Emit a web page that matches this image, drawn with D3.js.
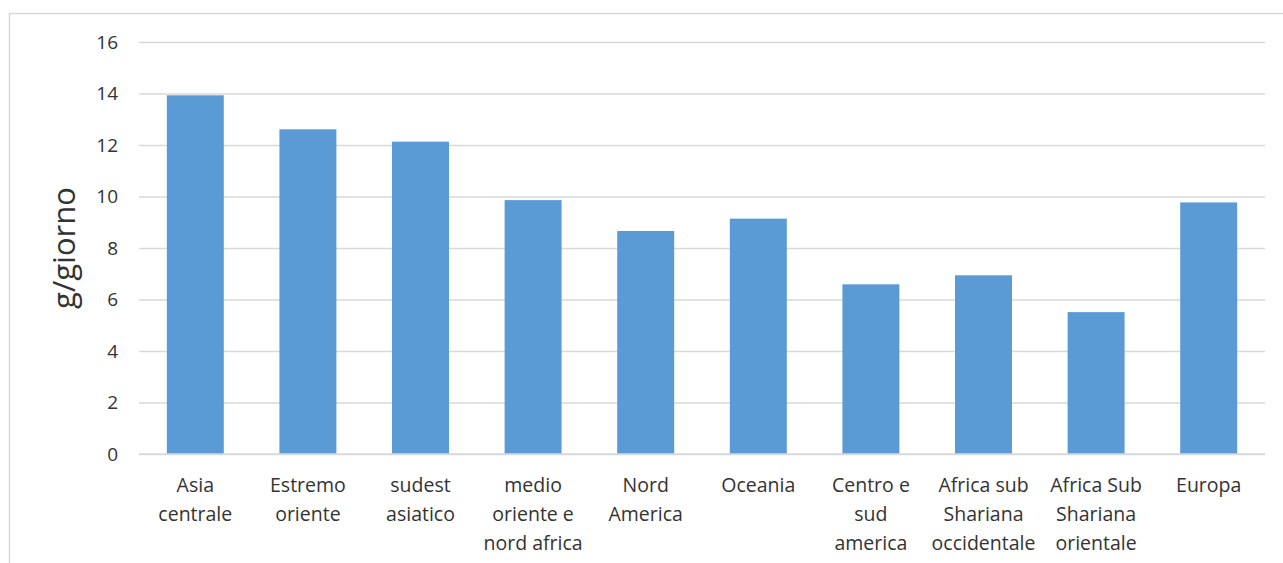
<!DOCTYPE html>
<html>
<head>
<meta charset="utf-8">
<script src="https://cdn.jsdelivr.net/npm/d3@7/dist/d3.min.js"></script>
<style>
  html, body { margin: 0; padding: 0; background: #fff; }
  svg { display: block; }
  text { font-family: "Open Sans", "Noto Sans", sans-serif; fill: #333; }
</style>
</head>
<body>
<svg id="chart" width="1283" height="563"></svg>
<script>
// Regions (label lines separated by "\n")
const categories = [
  "Asia\ncentrale",
  "Estremo\noriente",
  "sudest\nasiatico",
  "medio\noriente e\nnord africa",
  "Nord\nAmerica",
  "Oceania",
  "Centro e\nsud\namerica",
  "Africa sub\nShariana\noccidentale",
  "Africa Sub\nShariana\norientale",
  "Europa"
];
// Daily intake, g/giorno
const values = [13.93, 12.61, 12.13, 9.86, 8.66, 9.14, 6.59, 6.94, 5.51, 9.77];
const yTicks = [0, 2, 4, 6, 8, 10, 12, 14, 16];
const yTitle = "g/giorno";

const FONT = "'Open Sans', 'Noto Sans', sans-serif";
const svg = d3.select("#chart");
const W = 1283, H = 563;
const plot = { left: 139, right: 1265, top: 42, bottom: 454 };

// Outer chart frame
svg.append("rect")
  .attr("x", 9.5).attr("y", 13.5)
  .attr("width", W).attr("height", H)
  .attr("fill", "none").attr("stroke", "#d9d9d9").attr("stroke-width", 1.5);

const x = d3.scaleBand()
  .domain(categories)
  .range([plot.left, plot.right])
  .paddingInner(0.494).paddingOuter(0.247);

const y = d3.scaleLinear().domain([0, 16]).range([plot.bottom, plot.top]);

// Gridlines and tick labels
const yAxis = d3.axisLeft(y).tickValues(yTicks).tickSize(-(plot.right - plot.left)).tickPadding(21);
const gy = svg.append("g").attr("transform", `translate(${plot.left},0)`).call(yAxis);
gy.select(".domain").remove();
gy.selectAll(".tick line").attr("stroke", "#d9d9d9").attr("stroke-width", 1.5);
gy.selectAll(".tick text")
  .attr("font-size", 19).attr("fill", "#333")
  .style("font-family", FONT);

// Bars
svg.append("g").selectAll("rect")
  .data(categories.map((c, i) => ({ c, v: values[i] })))
  .join("rect")
  .attr("x", d => x(d.c))
  .attr("width", x.bandwidth())
  .attr("y", d => y(d.v))
  .attr("height", d => y(0) - y(d.v))
  .attr("fill", "#5b9bd5");

// Baseline redrawn over bars
svg.append("line")
  .attr("x1", plot.left).attr("x2", plot.right)
  .attr("y1", y(0)).attr("y2", y(0))
  .attr("stroke", "#d9d9d9").attr("stroke-width", 1.5);

// Category labels
const lab = svg.append("g").selectAll("text")
  .data(categories)
  .join("text")
  .attr("x", d => x(d) + x.bandwidth() / 2)
  .attr("y", 492)
  .attr("text-anchor", "middle")
  .attr("font-size", 19.5);
lab.each(function(d) {
  const t = d3.select(this);
  d.split("\n").forEach((line, i) => {
    t.append("tspan")
      .attr("x", x(d) + x.bandwidth() / 2)
      .attr("dy", i === 0 ? 0 : 28.8)
      .text(line);
  });
});

// Y axis title
svg.append("text")
  .attr("transform", `translate(75,${(plot.top + plot.bottom) / 2}) rotate(-90)`)
  .attr("text-anchor", "middle")
  .attr("font-size", 31)
  .attr("fill", "#000")
  .text(yTitle);
</script>
</body>
</html>
